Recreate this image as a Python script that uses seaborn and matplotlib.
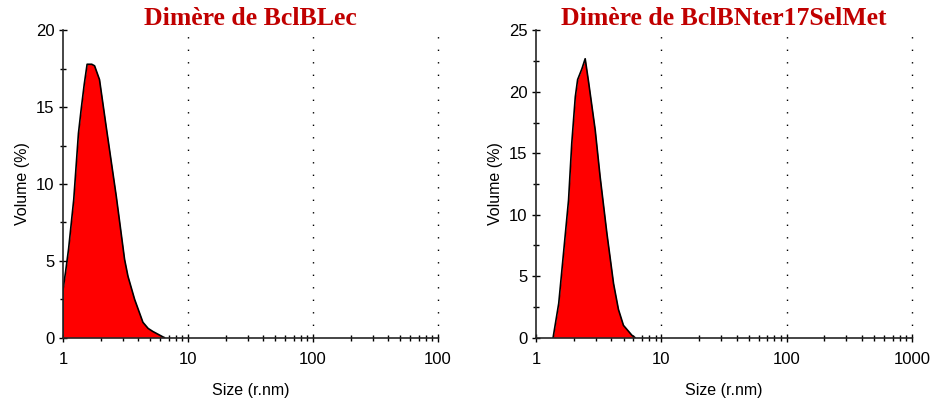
import numpy as np
import pandas as pd
import matplotlib
matplotlib.use('Agg')
import matplotlib.pyplot as plt
import matplotlib.ticker as mticker
import seaborn as sns

# Size distributions (volume %)
size_lec = [1.00, 1.05, 1.11, 1.22, 1.33, 1.40, 1.48, 1.56, 1.70, 1.79, 1.96, 2.22,
            2.67, 3.11, 3.31, 3.74, 4.36, 4.80, 5.24, 6.30, 6.50]
vol_lec = [3.1, 4.3, 5.8, 9.0, 13.3, 14.9, 16.5, 17.8, 17.8, 17.7, 16.8, 13.7,
           9.2, 5.1, 4.0, 2.5, 1.0, 0.6, 0.4, 0.05, 0.0]

size_sel = [1.37, 1.52, 1.66, 1.82, 1.93, 2.06, 2.15, 2.33, 2.47, 2.63, 2.97,
            3.25, 3.68, 4.16, 4.55, 4.99, 5.82, 6.18]
vol_sel = [0.0, 2.8, 6.9, 11.2, 15.8, 19.6, 21.0, 21.9, 22.7, 20.8, 16.9,
           13.1, 8.5, 4.4, 2.3, 1.0, 0.2, 0.0]

titles = ['Dimère de BclBLec', 'Dimère de BclBNter17SelMet']
ymax = [20, 25]
xlabels = [['1', '10', '100', '100'], ['1', '10', '100', '1000']]

sns.set_style('ticks')
plt.rcParams['font.family'] = ['Liberation Sans', 'DejaVu Sans']
plt.rcParams['text.color'] = 'black'
plt.rcParams['axes.labelcolor'] = 'black'
plt.rcParams['xtick.color'] = 'black'
plt.rcParams['ytick.color'] = 'black'

fig = plt.figure(figsize=(9.3, 4.01), dpi=100)
ax1 = fig.add_axes([0.0677, 0.158, 0.4033, 0.766])
ax2 = fig.add_axes([0.5763, 0.158, 0.4043, 0.766])

data = [(size_lec, vol_lec), (size_sel, vol_sel)]
for i, ax in enumerate([ax1, ax2]):
    df = pd.DataFrame({'size': data[i][0], 'vol': data[i][1]})
    ax.fill_between(df['size'], 0, df['vol'], color='#ff0000', lw=0)
    sns.lineplot(data=df, x='size', y='vol', ax=ax, color='black', lw=1.2)
    ax.plot([df['size'].iloc[0]] * 2, [0, df['vol'].iloc[0]], color='black', lw=1.2)

    ax.set_xscale('log')
    ax.set_xlim(1, 1000)
    ax.set_ylim(0, ymax[i])
    ax.set_xticks([1, 10, 100, 1000])
    ax.set_xticklabels(xlabels[i])
    ax.xaxis.set_minor_locator(mticker.LogLocator(base=10, subs=np.arange(2, 10)))
    ax.xaxis.set_minor_formatter(mticker.NullFormatter())
    ax.yaxis.set_major_locator(mticker.MultipleLocator(5))
    ax.yaxis.set_minor_locator(mticker.MultipleLocator(2.5))

    for v in [10, 100, 1000]:
        ax.axvline(v, color='black', lw=1.0, linestyle=(0, (1, 8)), clip_on=False)

    sns.despine(ax=ax)
    ax.spines['left'].set_linewidth(1.2)
    ax.spines['bottom'].set_linewidth(1.2)
    ax.tick_params(which='major', direction='inout', length=6, width=1, labelsize=12, pad=3)
    ax.tick_params(which='minor', direction='inout', length=4, width=1)
    ax.tick_params(axis='x', which='major', pad=7)

    ax.set_xlabel('Size (r.nm)', fontsize=11.5, labelpad=12)
    ax.set_ylabel('Volume (%)', fontsize=11.5, labelpad=4)
    ax.set_title(titles[i], fontsize=18.5, fontweight='bold', color='#c00000',
                 family=['Liberation Serif', 'DejaVu Serif'], pad=-4)

fig.savefig('out.png', dpi=100, facecolor='white')
